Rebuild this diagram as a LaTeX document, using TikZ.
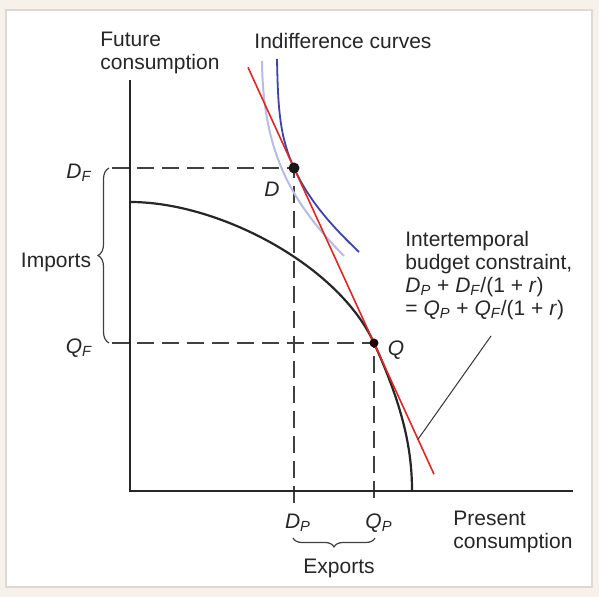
\documentclass[tikz,border=0pt]{standalone}
\usepackage{fontspec}
\setmainfont{Liberation Sans}
\usetikzlibrary{calc,decorations.pathreplacing}
\definecolor{paper}{RGB}{246,242,235}
\definecolor{panelline}{RGB}{222,216,208}
\definecolor{budgetred}{RGB}{222,38,38}
\definecolor{icdark}{RGB}{58,68,170}
\definecolor{iclight}{RGB}{185,188,226}
\newcommand{\varsub}[2]{{\itshape #1\textsubscript{#2}}}
\tikzset{
  axis/.style={line width=1.2pt, black!85},
  guide/.style={line width=0.6pt, black!75, dash pattern=on 8.5pt off 4pt},
  frontier/.style={line width=1.1pt, black!85},
  budget/.style={line width=0.8pt, budgetred},
  leader/.style={line width=0.5pt, black!80},
  bracegap/.style={decorate, decoration={brace, amplitude=#1}, line width=0.6pt, black!75},
  label/.style={font=\fontsize{10.5}{11.5}\selectfont, text=black!85, inner sep=0pt}
}
\begin{document}
\begin{tikzpicture}[x=0.5pt, y=0.5pt]
  \useasboundingbox (-130,-106) rectangle (469,491);
  \fill[paper] (-130,-106) rectangle (469,491);
  \filldraw[fill=white, draw=panelline, line width=0.6pt] (-124,-96) rectangle (462,481);
  % points of the diagram
  \coordinate (O) at (0,0);
  \coordinate (ytop) at (0,411);
  \coordinate (xend) at (443,0);
  \coordinate (D) at (164,323);
  \coordinate (Q) at (244,148);
  \coordinate (DFs) at (-18,323);
  \coordinate (QFs) at (-18,148);
  \coordinate (DPs) at (164,-12);
  \coordinate (QPs) at (244,-12);
  \coordinate (lead) at (361,155);
  % guides
  \draw[guide] (DFs) -- (D) -- (DPs);
  \draw[guide] (QFs) -- (Q) -- (QPs);
  % axes
  \draw[axis] (ytop) -- (O) -- (xend);
  % production possibility frontier
  \draw[frontier] (0,289) .. controls (90,289) and (209,225) .. (Q)
    .. controls (274,82) and (282,40) .. (282,0);
  % indifference curves
  \draw[line width=1pt, iclight] (132,430) .. controls (133,340) and (160,290) .. (214,235);
  \draw[line width=0.9pt, icdark] (147,432) .. controls (148,380) and (150,354) .. (D)
    .. controls (180,288) and (205,262) .. (229,239);
  % budget line
  \draw[budget] ($(D)!-0.575!(Q)$) -- ($(D)!1.75!(Q)$);
  \draw[leader] (lead) -- ($(D)!1.55!(Q)$);
  \fill[black!90] (D) circle (5.5);
  \fill[black!70!red!50!black] (Q) circle (4.5);
  % braces
  \draw[bracegap=5.5pt] (-21,148) -- (-21,323);
  \draw[bracegap=4.5pt] (245,-47) -- (163,-47);
  % labels
  \node[label] (lD) at (142,302) {\itshape D};
  \node[label] (lQ) at (266,141) {\itshape Q};
  \node[label] (lDF) at (-51,318) {\varsub{D}{F}};
  \node[label] (lQF) at (-51,143) {\varsub{Q}{F}};
  \node[label] (lDP) at (168,-32) {\varsub{D}{P}};
  \node[label] (lQP) at (249,-32) {\varsub{Q}{P}};
  \node[label] (lImports) at (-74,229) {Imports};
  \node[label] (lExports) at (209,-77) {Exports};
  \node[label, anchor=west, align=left] (lFuture) at (-30,438) {Future\\consumption};
  \node[label, anchor=west, align=left] (lPresent) at (323,-41) {Present\\consumption};
  \node[label] (lIndiff) at (213,450) {Indifference curves};
  \node[label, anchor=north west, align=left] (lBudget) at (275,260)
    {Intertemporal\\budget constraint,\\\varsub{D}{P} + \varsub{D}{F}/(1 + \textit{r})\\= \varsub{Q}{P} + \varsub{Q}{F}/(1 + \textit{r})};
\end{tikzpicture}
\end{document}
